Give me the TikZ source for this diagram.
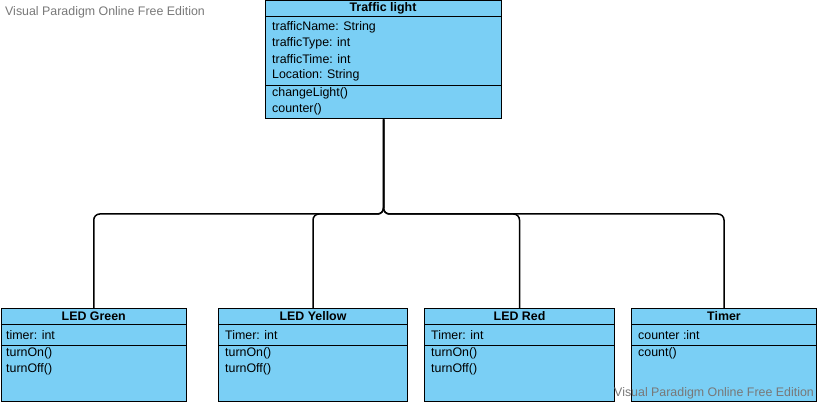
\documentclass[tikz,border=0pt]{standalone}
\usepackage{fontspec}
\setmainfont{Liberation Sans}
\definecolor{classblue}{RGB}{122,207,245}
\definecolor{markgray}{RGB}{120,120,120}

\begin{document}
\begin{tikzpicture}[x=1pt,y=-1pt,font=\fontsize{12.4}{14}\selectfont,
        classbox/.style={draw,fill=classblue,line width=1pt,anchor=north west,inner sep=0pt,minimum height=93pt},
        classname/.style={font=\fontsize{12.4}{14}\selectfont\bfseries,inner sep=0pt},
        member/.style={anchor=west,inner sep=0pt},
        divider/.style={line width=1pt},
        link/.style={line width=1.5pt,rounded corners=6pt},
        watermark/.style={text=markgray,anchor=west,inner sep=0pt}]

    \useasboundingbox (0,0) rectangle (818,403);

    \node[watermark] (marktop) at (5,12.5) {Visual Paradigm Online Free Edition};

    % parent class
    \node[classbox,minimum width=236pt,minimum height=118pt] (light) at (265,0.5) {};
    \node[classname] (lightname) at (383,8.5) {Traffic light};
    \draw[divider] (light.west |- 0,17) -- (light.east |- 0,17);
    \draw[divider] (light.west |- 0,86) -- (light.east |- 0,86);
    \node[member] (lightattra) at (272,27.5) {trafficName: String};
    \node[member] (lightattrb) at (272,43.5) {trafficType: int};
    \node[member] (lightattrc) at (272,59.5) {trafficTime: int};
    \node[member] (lightattrd) at (272,75.5) {Location: String};
    \node[member] (lightopa) at (272,93.5) {changeLight()};
    \node[member] (lightopb) at (272,109.5) {counter()};

    % child classes
    \node[classbox,minimum width=185.5pt] (green) at (0.5,308) {};
    \node[classname] (greenname) at (green.north |- 0,316.5) {LED Green};
    \node[member] (greenattr) at (6,335.5) {timer: int};
    \node[member] (greenopa) at (6,353.5) {turnOn()};
    \node[member] (greenopb) at (6,369.5) {turnOff()};

    \node[classbox,minimum width=189pt] (yellow) at (218,308) {};
    \node[classname] (yellowname) at (yellow.north |- 0,316.5) {LED Yellow};
    \node[member] (yellowattr) at (225,335.5) {Timer: int};
    \node[member] (yellowopa) at (225,353.5) {turnOn()};
    \node[member] (yellowopb) at (225,369.5) {turnOff()};

    \node[classbox,minimum width=190pt] (red) at (424,308) {};
    \node[classname] (redname) at (red.north |- 0,316.5) {LED Red};
    \node[member] (redattr) at (431,335.5) {Timer: int};
    \node[member] (redopa) at (431,353.5) {turnOn()};
    \node[member] (redopb) at (431,369.5) {turnOff()};

    \node[classbox,minimum width=185pt] (timer) at (631,308) {};
    \node[classname] (timername) at (timer.north |- 0,316.5) {Timer};
    \node[member] (timerattr) at (638,335.5) {counter :int};
    \node[member] (timerop) at (638,353.5) {count()};

    \foreach \cls in {green,yellow,red,timer} {
        \draw[divider] (\cls.west |- 0,324) -- (\cls.east |- 0,324);
        \draw[divider] (\cls.west |- 0,345) -- (\cls.east |- 0,345);
    }

    % links from the parent
    \coordinate (bus) at (light.south |- 0,214);
    \draw[link] (light.south) -- (bus) -| (green.north);
    \draw[link] (light.south) -- (bus) -| (yellow.north);
    \draw[link] (light.south) -- (bus) -| (red.north);
    \draw[link] (light.south) -- (bus) -| (timer.north);

    \node[watermark] (markbottom) at (614,393.5) {Visual Paradigm Online Free Edition};
\end{tikzpicture}
\end{document}
